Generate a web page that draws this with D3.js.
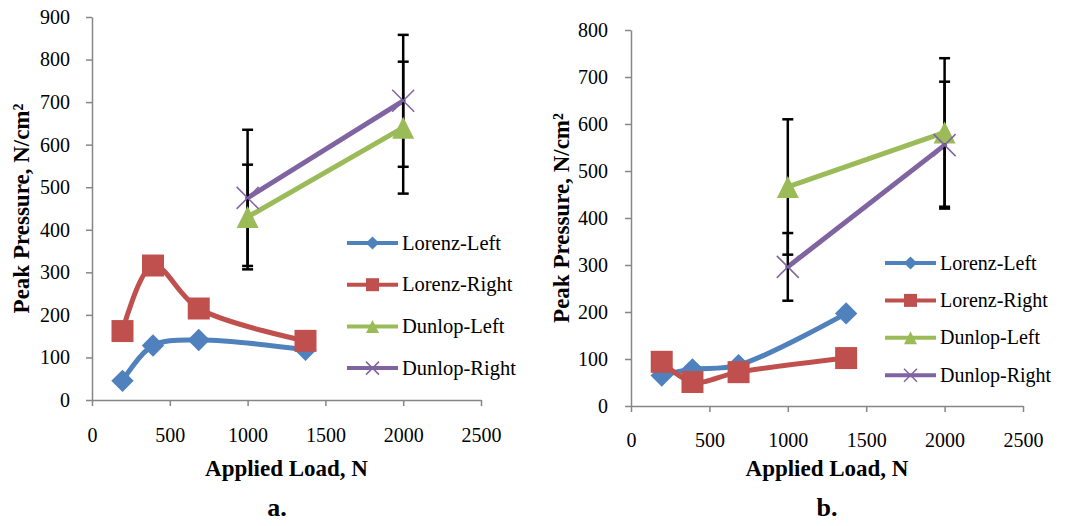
<!DOCTYPE html>
<html>
<head>
<meta charset="utf-8">
<script src="https://cdn.jsdelivr.net/npm/d3@7"></script>
<style>
  body { margin: 0; background: #fff; }
  svg { display: block; }
  .axis path, .axis line { stroke: #868686; stroke-width: 1.5px; }
</style>
</head>
<body>
<svg id="chart" width="1087" height="526"></svg>
<script>
var SERIF = "'Liberation Serif', 'Times New Roman', serif";

// shared
var seriesNames = ["Lorenz-Left", "Lorenz-Right", "Dunlop-Left", "Dunlop-Right"];
var seriesColors = ["#4F81BD", "#C0504D", "#9BBB59", "#8064A2"];
var lorenzLoads = [196, 392, 686, 1372];
var dunlopLoads = [1000, 2000];
var xTicks = [0, 500, 1000, 1500, 2000, 2500];

// chart a.
var aLorenzLeft = [45, 128, 141, 118];
var aLorenzRight = [162, 316, 215, 139];
var aDunlopLeft = [430, 640];
var aDunlopRight = [475, 703];
var aDunlopLeftErr = [123, 155];
var aDunlopRightErr = [160, 155];
var aYTicks = [0, 100, 200, 300, 400, 500, 600, 700, 800, 900];

// chart b.
var bLorenzLeft = [65, 78, 87, 197];
var bLorenzRight = [94, 51, 72, 102];
var bDunlopLeft = [466, 582];
var bDunlopRight = [296, 555];
var bDunlopLeftErr = [144, 158];
var bDunlopRightErr = [72, 135];
var bYTicks = [0, 100, 200, 300, 400, 500, 600, 700, 800];

var svg = d3.select("#chart");
svg.append("rect").attr("width", 1087).attr("height", 526).attr("fill", "#fff");

// marker shapes, drawn around 0,0
function marker(g, i, size) {
  var c = seriesColors[i];
  if (i == 0) {
    var s = size * 0.72;
    g.append("path")
      .attr("d", d3.symbol(d3.symbolSquare, s * s)())
      .attr("transform", "rotate(45)")
      .attr("fill", c);
  } else if (i == 1) {
    g.append("path")
      .attr("d", d3.symbol(d3.symbolSquare, size * size)())
      .attr("fill", c);
  } else if (i == 2) {
    var h = size / 2;
    g.append("path")
      .attr("d", "M0," + (-h) + "L" + h + "," + h + "L" + (-h) + "," + h + "Z")
      .attr("fill", c);
  } else {
    var h = size / 2;
    g.append("path")
      .attr("d", "M" + (-h) + "," + (-h) + "L" + h + "," + h + "M" + h + "," + (-h) + "L" + (-h) + "," + h)
      .attr("stroke", c)
      .attr("stroke-width", 1.5)
      .attr("fill", "none");
  }
}

function drawChart(cfg) {
  var x = d3.scaleLinear().domain([0, 2500]).range([cfg.left, cfg.right]);
  var y = d3.scaleLinear().domain([0, cfg.yMax]).range([cfg.bottom, cfg.top]);

  // axes
  var gx = svg.append("g")
    .attr("class", "axis")
    .attr("transform", "translate(0," + cfg.bottom + ")")
    .call(d3.axisBottom(x).tickValues(xTicks).tickFormat(d3.format("d")).tickSize(6).tickSizeOuter(0));
  gx.selectAll("text")
    .attr("y", cfg.xLabelY)
    .attr("dy", 0)
    .style("font-family", SERIF)
    .style("font-size", cfg.tickFont + "px")
    .style("fill", "#000");

  var gy = svg.append("g")
    .attr("class", "axis")
    .attr("transform", "translate(" + cfg.left + ",0)")
    .call(d3.axisLeft(y).tickValues(cfg.yTicks).tickSize(6).tickSizeOuter(0));
  gy.selectAll("text")
    .attr("x", -cfg.yLabelGap)
    .style("font-family", SERIF)
    .style("font-size", cfg.tickFont + "px")
    .style("fill", "#000");

  // titles
  svg.append("text")
    .attr("x", (cfg.left + cfg.right) / 2)
    .attr("y", 476)
    .attr("text-anchor", "middle")
    .style("font-family", SERIF)
    .style("font-weight", "bold")
    .style("font-size", "23px")
    .text("Applied Load, N");

  svg.append("text")
    .attr("transform", "translate(" + cfg.yTitleX + "," + (cfg.top + cfg.bottom) / 2 + ") rotate(-90)")
    .attr("text-anchor", "middle")
    .style("font-family", SERIF)
    .style("font-weight", "bold")
    .style("font-size", "23px")
    .text("Peak Pressure, N/cm²");

  svg.append("text")
    .attr("x", cfg.labelX)
    .attr("y", 516)
    .attr("text-anchor", "middle")
    .style("font-family", SERIF)
    .style("font-weight", "bold")
    .style("font-size", "26px")
    .text(cfg.label);

  var series = [
    { xs: lorenzLoads, ys: cfg.data[0] },
    { xs: lorenzLoads, ys: cfg.data[1] },
    { xs: dunlopLoads, ys: cfg.data[2], err: cfg.err[0] },
    { xs: dunlopLoads, ys: cfg.data[3], err: cfg.err[1] }
  ];

  // lines (Excel smoothed)
  var line = d3.line()
    .x(function(d) { return x(d[0]); })
    .y(function(d) { return y(d[1]); })
    .curve(d3.curveCatmullRom.alpha(0.5));

  series.forEach(function(s, i) {
    svg.append("path")
      .datum(d3.zip(s.xs, s.ys))
      .attr("d", line)
      .attr("fill", "none")
      .attr("stroke", seriesColors[i])
      .attr("stroke-width", 5)
      .attr("stroke-linejoin", "round")
      .attr("stroke-linecap", "round");
  });

  // error bars
  series.forEach(function(s) {
    if (!s.err) return;
    s.xs.forEach(function(xv, j) {
      var px = x(xv), hi = y(s.ys[j] + s.err[j]), lo = y(s.ys[j] - s.err[j]);
      var g = svg.append("g").attr("stroke", "#000").attr("stroke-width", 2.5);
      g.append("line").attr("x1", px).attr("x2", px).attr("y1", hi).attr("y2", lo);
      g.append("line").attr("x1", px - 5.5).attr("x2", px + 5.5).attr("y1", hi).attr("y2", hi);
      g.append("line").attr("x1", px - 5.5).attr("x2", px + 5.5).attr("y1", lo).attr("y2", lo);
    });
  });

  // markers
  series.forEach(function(s, i) {
    s.xs.forEach(function(xv, j) {
      var g = svg.append("g").attr("transform", "translate(" + x(xv) + "," + y(s.ys[j]) + ")");
      marker(g, i, 22);
    });
  });

  // legend
  seriesNames.forEach(function(name, i) {
    var ly = cfg.legendY + i * cfg.legendStep;
    svg.append("line")
      .attr("x1", cfg.legendX).attr("x2", cfg.legendX + 51)
      .attr("y1", ly).attr("y2", ly)
      .attr("stroke", seriesColors[i]).attr("stroke-width", 4);
    var g = svg.append("g").attr("transform", "translate(" + (cfg.legendX + 25.5) + "," + ly + ")");
    marker(g, i, 13);
    svg.append("text")
      .attr("x", cfg.legendX + 55)
      .attr("y", ly)
      .attr("dy", "0.33em")
      .style("font-family", SERIF)
      .style("font-size", cfg.legendFont + "px")
      .style("fill", "#000")
      .text(name);
  });
}

drawChart({
  left: 92, right: 481, top: 17, bottom: 400, yMax: 900, yTicks: aYTicks,
  tickFont: 20, xLabelY: 42, yLabelGap: 22, yTitleX: 29,
  label: "a.", labelX: 277,
  data: [aLorenzLeft, aLorenzRight, aDunlopLeft, aDunlopRight],
  err: [aDunlopLeftErr, aDunlopRightErr],
  legendX: 347, legendY: 243, legendStep: 41.7, legendFont: 20.5
});

drawChart({
  left: 631, right: 1023, top: 30, bottom: 406, yMax: 800, yTicks: bYTicks,
  tickFont: 20, xLabelY: 41, yLabelGap: 23, yTitleX: 569,
  label: "b.", labelX: 827,
  data: [bLorenzLeft, bLorenzRight, bDunlopLeft, bDunlopRight],
  err: [bDunlopLeftErr, bDunlopRightErr],
  legendX: 885, legendY: 263, legendStep: 37.4, legendFont: 20
});
</script>
</body>
</html>
